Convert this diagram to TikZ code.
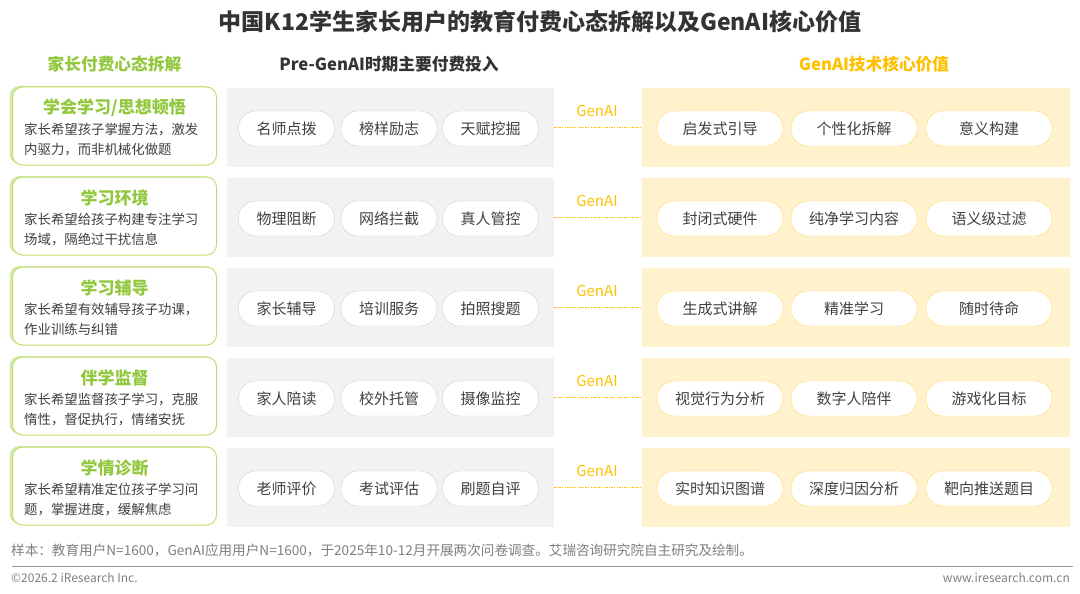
\documentclass[tikz,border=0pt]{standalone}
\usepackage{fontspec}
\setmainfont{Noto Sans CJK SC}
\usepackage{xcolor}
\usepackage{tikz}
\usetikzlibrary{shadows}
\definecolor{IRText}{HTML}{404040}
\definecolor{IRDark}{HTML}{333333}
\definecolor{IRGreen}{HTML}{92C83E}
\definecolor{IRGreenLine}{HTML}{C2DE6A}
\definecolor{IRGrayFill}{HTML}{F2F2F2}
\definecolor{IRGrayLine}{HTML}{D0D0D0}
\definecolor{IRYellow}{HTML}{FFC000}
\definecolor{IRYellowFill}{HTML}{FFF2CC}
\definecolor{IRYellowLine}{HTML}{FFD966}
\definecolor{IRNote}{HTML}{7F7F7F}
\tikzset{
  needbox/.style={draw=IRGreenLine,line width=1pt,fill=white,rounded corners=10pt,
    minimum width=204pt,minimum height=78pt,
    drop shadow={shadow xshift=-3pt,shadow yshift=1pt,fill=IRGreen,opacity=.4}},
  prepanel/.style={fill=IRGrayFill,minimum width=327pt,minimum height=79pt,inner sep=0pt},
  genpanel/.style={fill=IRYellowFill,minimum width=428pt,minimum height=79pt,inner sep=0pt},
  prepill/.style={draw=IRGrayLine,fill=white,rounded corners=17pt,minimum width=96pt,
    minimum height=35pt,inner sep=0pt,text=IRText,font=\fontsize{15}{18}\selectfont},
  genpill/.style={prepill,draw=IRYellowLine,minimum width=126pt},
  colhead/.style={font=\fontsize{16.7}{19}\selectfont\bfseries}
}

\begin{document}
\begin{tikzpicture}[x=1pt,y=-1pt]
\useasboundingbox[fill=white] (0,0) rectangle (1080,594);
\node[font=\fontsize{23}{27}\selectfont\bfseries,text=IRDark] (title) at (540,22) {中国K12学生家长用户的教育付费心态拆解以及GenAI核心价值};
\node[colhead,text=IRGreen] (headneed) at (114.5,64) {家长付费心态拆解};
\node[colhead,text=IRDark] (headpre) at (389,64) {Pre-GenAI时期主要付费投入};
\node[colhead,text=IRYellow] (headgen) at (874,64) {GenAI技术核心价值};
\foreach \i/\ttl/\la/\lb/\pa/\pb/\pc/\qa/\qb/\qc in {
  0/{学会学习/思想顿悟}/家长希望孩子掌握方法，激发/内驱力，而非机械化做题/名师点拨/榜样励志/天赋挖掘/启发式引导/个性化拆解/意义构建,
  1/学习环境/家长希望给孩子构建专注学习/场域，隔绝过干扰信息/物理阻断/网络拦截/真人管控/封闭式硬件/纯净学习内容/语义级过滤,
  2/学习辅导/家长希望有效辅导孩子功课，/作业训练与纠错/家长辅导/培训服务/拍照搜题/生成式讲解/精准学习/随时待命,
  3/伴学监督/家长希望监督孩子学习，克服/惰性，督促执行，情绪安抚/家人陪读/校外托管/摄像监控/视觉行为分析/数字人陪伴/游戏化目标,
  4/学情诊断/家长希望精准定位孩子学习问/题，掌握进度，缓解焦虑/老师评价/考试评估/刷题自评/实时知识图谱/深度归因分析/靶向推送题目} {
  \node[needbox] (need\i) at (114.5,{126+90*\i}) {};
  \node[font=\fontsize{17}{20}\selectfont\bfseries,text=IRGreen] (needt\i) at (114.5,{108+90*\i}) {\ttl};
  \node[font=\fontsize{13.4}{19.5}\selectfont,text=IRText,align=left,anchor=west,inner sep=0pt] (needd\i) at (24,{139.5+90*\i}) {\la\\\lb};
  \node[prepanel] (pre\i) at (390.5,{127.5+90*\i}) {};
  \node[genpanel] (gen\i) at (856,{127.5+90*\i}) {};
  \node[prepill] (pre\i-a) at (286.5,{128.5+90*\i}) {\pa};
  \node[prepill] (pre\i-b) at (389,{128.5+90*\i}) {\pb};
  \node[prepill] (pre\i-c) at (490.5,{128.5+90*\i}) {\pc};
  \node[genpill] (gen\i-a) at (720,{128.5+90*\i}) {\qa};
  \node[genpill] (gen\i-b) at (854,{128.5+90*\i}) {\qb};
  \node[genpill] (gen\i-c) at (989,{128.5+90*\i}) {\qc};
  \node[text=IRYellow,font=\fontsize{15}{18}\selectfont] (genl\i) at (597,{111+90*\i}) {GenAI};
  \draw[IRYellow,line width=1.6pt,dash pattern=on 1.4pt off 1.2pt] (pre\i.east) -- (gen\i.west);
}
% footer
\node[anchor=west,inner sep=0pt,text=IRNote,font=\fontsize{13.6}{15}\selectfont] (note) at (11,550) {样本：教育用户N=1600，GenAI应用用户N=1600，于2025年10-12月开展两次问卷调查。艾瑞咨询研究院自主研究及绘制。};
\draw[IRNote!80,line width=0.8pt] (12,566) -- (1073,566);
\node[anchor=west,inner sep=0pt,text=IRNote,font=\fontsize{12}{14}\selectfont] (copy) at (11,578) {©2026.2 iResearch Inc.};
\node[anchor=east,inner sep=0pt,text=IRNote,font=\fontsize{12}{14}\selectfont] (web) at (1070,578) {www.iresearch.com.cn};
\end{tikzpicture}
\end{document}
